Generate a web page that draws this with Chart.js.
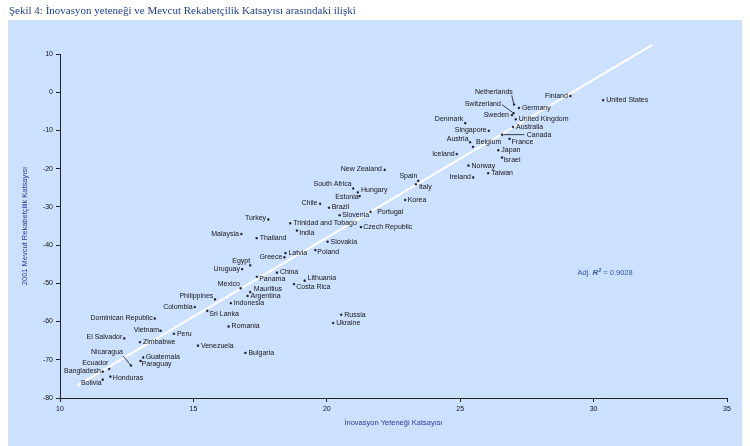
<!DOCTYPE html>
<html>
<head>
<meta charset="utf-8">
<script src="https://cdn.jsdelivr.net/npm/chart.js@4"></script>
<style>
  html, body { margin: 0; padding: 0; background: #ffffff; }
  canvas { display: block; }
</style>
</head>
<body>
<canvas id="chart" width="750" height="446"></canvas>
<script>
// Countries and their two indices (x: innovation capacity, y: current competitiveness)
const countries = [
  'Finland', 'United States', 'Netherlands', 'Switzerland', 'Germany', 'Sweden',
  'United Kingdom', 'Australia', 'Denmark', 'Singapore', 'Canada', 'Austria',
  'Belgium', 'France', 'Japan', 'Israel', 'Iceland', 'Norway', 'Taiwan', 'Ireland',
  'New Zealand', 'Spain', 'Italy', 'South Africa', 'Hungary', 'Estonia', 'Korea',
  'Chile', 'Brazil', 'Portugal', 'Slovenia', 'Turkey', 'Trinidad and Tobago',
  'Czech Republic', 'India', 'Malaysia', 'Thailand', 'Slovakia', 'Poland', 'Latvia',
  'Greece', 'Egypt', 'Uruguay', 'China', 'Panama', 'Lithuania', 'Costa Rica',
  'Mexico', 'Mauritius', 'Argentina', 'Philippines', 'Indonesia', 'Colombia',
  'Sri Lanka', 'Russia', 'Ukraine', 'Dominican Republic', 'Romania', 'Vietnam',
  'Peru', 'El Salvador', 'Zimbabwe', 'Venezuela', 'Bulgaria', 'Nicaragua',
  'Guatemala', 'Paraguay', 'Ecuador', 'Bangladesh', 'Honduras', 'Bolivia'
];

const innovationIndex = [
  29.13, 30.36, 27.02, 27.00, 27.20, 26.94,
  27.08, 26.98, 25.19, 26.07, 26.57, 25.37,
  25.48, 26.85, 26.43, 26.57, 24.87, 25.31, 26.05, 25.49,
  22.17, 23.43, 23.34, 20.99, 21.16, 21.23, 22.94,
  19.75, 20.08, 21.64, 20.48, 17.81, 18.63,
  21.28, 18.88, 16.80, 17.37, 20.03, 19.57, 18.45,
  18.41, 17.13, 16.83, 18.13, 17.38, 19.17, 18.77,
  16.77, 17.13, 17.03, 15.81, 16.40, 15.05,
  15.52, 20.54, 20.24, 13.55, 16.32, 13.77,
  14.27, 12.41, 13.00, 15.17, 16.95, 12.66,
  13.12, 13.02, 11.84, 11.60, 11.89, 11.60
];

const competitivenessIndex = [
  -1.0, -2.1, -3.2, -5.5, -4.1, -6.0,
  -7.1, -9.1, -8.1, -10.1, -11.1, -13.1,
  -14.3, -12.2, -15.2, -17.1, -16.2, -19.2, -21.2, -22.3,
  -20.3, -23.2, -24.1, -25.2, -26.2, -27.2, -28.2,
  -29.2, -30.2, -31.3, -32.2, -33.3, -34.3,
  -35.3, -36.2, -37.1, -38.2, -39.1, -41.3, -42.1,
  -43.2, -45.3, -46.3, -47.2, -48.3, -49.3, -50.2,
  -51.3, -52.3, -53.3, -54.2, -55.2, -56.2,
  -57.2, -58.2, -60.4, -59.2, -61.3, -62.4,
  -63.2, -64.4, -65.4, -66.3, -68.2, -71.5,
  -69.4, -70.3, -72.4, -73.1, -74.4, -75.2
];

// Fitted regression line (end points) and its fit statistic
const trendX = [10.65, 32.2];
const trendY = [-76.7, 12.4];
const adjR2 = '0.9028';

// Axis ticks
const xTicks = [10, 15, 20, 25, 30, 35];
const yTicks = [10, 0, -10, -20, -30, -40, -50, -60, -70, -80];

const titleText = 'Şekil 4: İnovasyon yeteneği ve Mevcut Rekabetçilik Katsayısı arasındaki ilişki';
const xTitle = 'İnovasyon Yeteneği Katsayısı';
const yTitle = '2001 Mevcut Rekabetçilik Katsayısı';

// Label placement in pixels relative to each dot: [dx, dy]; negative dx puts the
// name to the left of the dot. A third entry gives a leader line [x1, y1, x2, y2].
const labelLayout = {
  'Finland': [-2.5, 0], 'Sweden': [-3, 0], 'Denmark': [-2, -4], 'Singapore': [-2, -1],
  'Austria': [-1.5, -3.6], 'Belgium': [3, -4.4], 'France': [2, 3.6], 'Israel': [1.3, 2.6],
  'Iceland': [-2, 0], 'Ireland': [-2.3, 0], 'New Zealand': [-2.7, -0.7],
  'Spain': [-1, -4.4], 'Italy': [3, 2.7], 'South Africa': [-1.6, -4.4], 'Hungary': [3.3, -2],
  'Estonia': [-1, 0.7], 'Chile': [-2.7, -1], 'Brazil': [2.7, -0.4], 'Portugal': [6.6, 0],
  'Slovenia': [2.6, 0], 'Korea': [2.4, 0], 'Czech Republic': [2.3, 0], 'Poland': [2, 2.3],
  'India': [2.3, 2.3], 'Turkey': [-2.3, -1], 'Malaysia': [-2.6, 0], 'Greece': [-2, 0],
  'Egypt': [-0.1, -4.3], 'Uruguay': [-2.3, -0.6], 'China': [3, -0.4], 'Panama': [2.3, 2],
  'Lithuania': [3, -3], 'Costa Rica': [2.3, 2.7], 'Mexico': [-0.7, -4.6], 'Mauritius': [3.4, -2.7],
  'Philippines': [-1.7, -3.3], 'Colombia': [-2, -0.3], 'Sri Lanka': [2, 3.3],
  'Dominican Republic': [-2, -0.6], 'Vietnam': [-1.4, -0.7], 'El Salvador': [-2, -1],
  'Paraguay': [1, 3.6], 'Guatemala': [2.4, -0.3], 'Ecuador': [-0.7, -6.3],
  'Bangladesh': [-1.7, -0.7], 'Honduras': [2.4, 1.3], 'Bolivia': [-1, 3.3],
  'Netherlands': [-1.3, -12.6, [-0.5, -1, -2.3, -9]],
  'Switzerland': [-12.7, -9, [-1, -1, -11.5, -8.5]],
  'Canada': [24.7, 0.3, [1.5, 0, 22.3, 0]],
  'Nicaragua': [-8, -13.3, [-0.5, -0.5, -7.7, -9.3]]
};

const BG = '#cce0ff';
const LABEL_FONT = '7px "Liberation Sans", Arial, sans-serif';

const decor = {
  id: 'decor',
  beforeDraw(chart) {
    const ctx = chart.ctx;
    ctx.save();
    ctx.fillStyle = '#ffffff';
    ctx.fillRect(0, 0, chart.width, chart.height);
    ctx.fillStyle = BG;
    ctx.fillRect(8, 20, 734, 426);
    ctx.font = '11px "Liberation Serif", "Times New Roman", serif';
    ctx.fillStyle = '#1f3f95';
    ctx.textBaseline = 'middle';
    ctx.textAlign = 'left';
    ctx.fillText(titleText, 9, 11);
    ctx.restore();
  },
  afterDatasetsDraw(chart) {
    const ctx = chart.ctx;
    const meta = chart.getDatasetMeta(1);
    ctx.save();
    ctx.font = LABEL_FONT;
    ctx.fillStyle = '#141414';
    ctx.strokeStyle = '#141414';
    ctx.lineWidth = 0.8;
    ctx.textBaseline = 'middle';
    meta.data.forEach((pt, i) => {
      const name = countries[i];
      const lay = labelLayout[name] || [3, 0];
      const [dx, dy, leader] = lay;
      if (leader) {
        ctx.beginPath();
        ctx.moveTo(pt.x + leader[0], pt.y + leader[1]);
        ctx.lineTo(pt.x + leader[2], pt.y + leader[3]);
        ctx.stroke();
      }
      ctx.textAlign = dx < 0 ? 'right' : 'left';
      ctx.fillText(name, pt.x + dx, pt.y + dy);
    });

    // Adjusted R² note
    const xs = chart.scales.x, ys = chart.scales.y;
    let x = xs.getPixelForValue(29.4);
    const y = ys.getPixelForValue(-47.2);
    ctx.fillStyle = '#3556b8';
    ctx.textAlign = 'left';
    ctx.font = '7.5px "Liberation Sans", Arial, sans-serif';
    ctx.fillText('Adj. ', x, y);
    x += ctx.measureText('Adj. ').width;
    ctx.font = 'italic bold 8px "Liberation Sans", Arial, sans-serif';
    ctx.fillText('R', x, y);
    x += ctx.measureText('R').width;
    ctx.font = 'bold 5px "Liberation Sans", Arial, sans-serif';
    ctx.fillText('2', x, y - 2.5);
    x += ctx.measureText('2').width;
    ctx.font = '7.5px "Liberation Sans", Arial, sans-serif';
    ctx.fillText(' = ' + adjR2, x, y);
    ctx.restore();
  }
};

const tickFont = { family: '"Liberation Sans", Arial, sans-serif', size: 7 };

new Chart(document.getElementById('chart'), {
  data: {
    datasets: [
      {
        type: 'line',
        data: trendX.map((v, i) => ({ x: v, y: trendY[i] })),
        borderColor: '#ffffff',
        borderWidth: 2,
        pointRadius: 0,
        fill: false,
        clip: false,
        order: 2
      },
      {
        type: 'scatter',
        data: innovationIndex.map((v, i) => ({ x: v, y: competitivenessIndex[i] })),
        pointStyle: 'rect',
        pointRadius: 1.1,
        backgroundColor: '#111111',
        borderColor: '#111111',
        borderWidth: 0.5,
        order: 1
      }
    ]
  },
  options: {
    responsive: false,
    animation: false,
    devicePixelRatio: 1,
    layout: { padding: { left: 0, right: 23, top: 54, bottom: 0 } },
    plugins: {
      legend: { display: false },
      tooltip: { enabled: false }
    },
    scales: {
      x: {
        type: 'linear',
        min: 10, max: 35,
        afterBuildTicks: s => { s.ticks = xTicks.map(v => ({ value: v })); },
        afterFit: s => { s.height = 48; },
        border: { color: '#222222', width: 1 },
        grid: { drawOnChartArea: false, drawTicks: true, tickLength: 4, color: '#222222' },
        ticks: { font: tickFont, color: '#111111', padding: 3, maxRotation: 0 },
        title: {
          display: true, text: xTitle, color: '#2a3aa8',
          font: { family: '"Liberation Sans", Arial, sans-serif', size: 7.5 },
          padding: { top: 0, bottom: 18.5 }
        }
      },
      y: {
        type: 'linear',
        min: -80, max: 10,
        afterBuildTicks: s => { s.ticks = yTicks.slice().reverse().map(v => ({ value: v })); },
        afterFit: s => { s.width = 60; },
        border: { color: '#222222', width: 1 },
        grid: { drawOnChartArea: false, drawTicks: true, tickLength: 4, color: '#222222' },
        ticks: { font: tickFont, color: '#111111', padding: 3 },
        title: {
          display: true, text: yTitle, color: '#2a3aa8',
          font: { family: '"Liberation Sans", Arial, sans-serif', size: 7.5 },
          padding: { top: 20, bottom: 0 }
        }
      }
    }
  },
  plugins: [decor]
});
</script>
</body>
</html>
